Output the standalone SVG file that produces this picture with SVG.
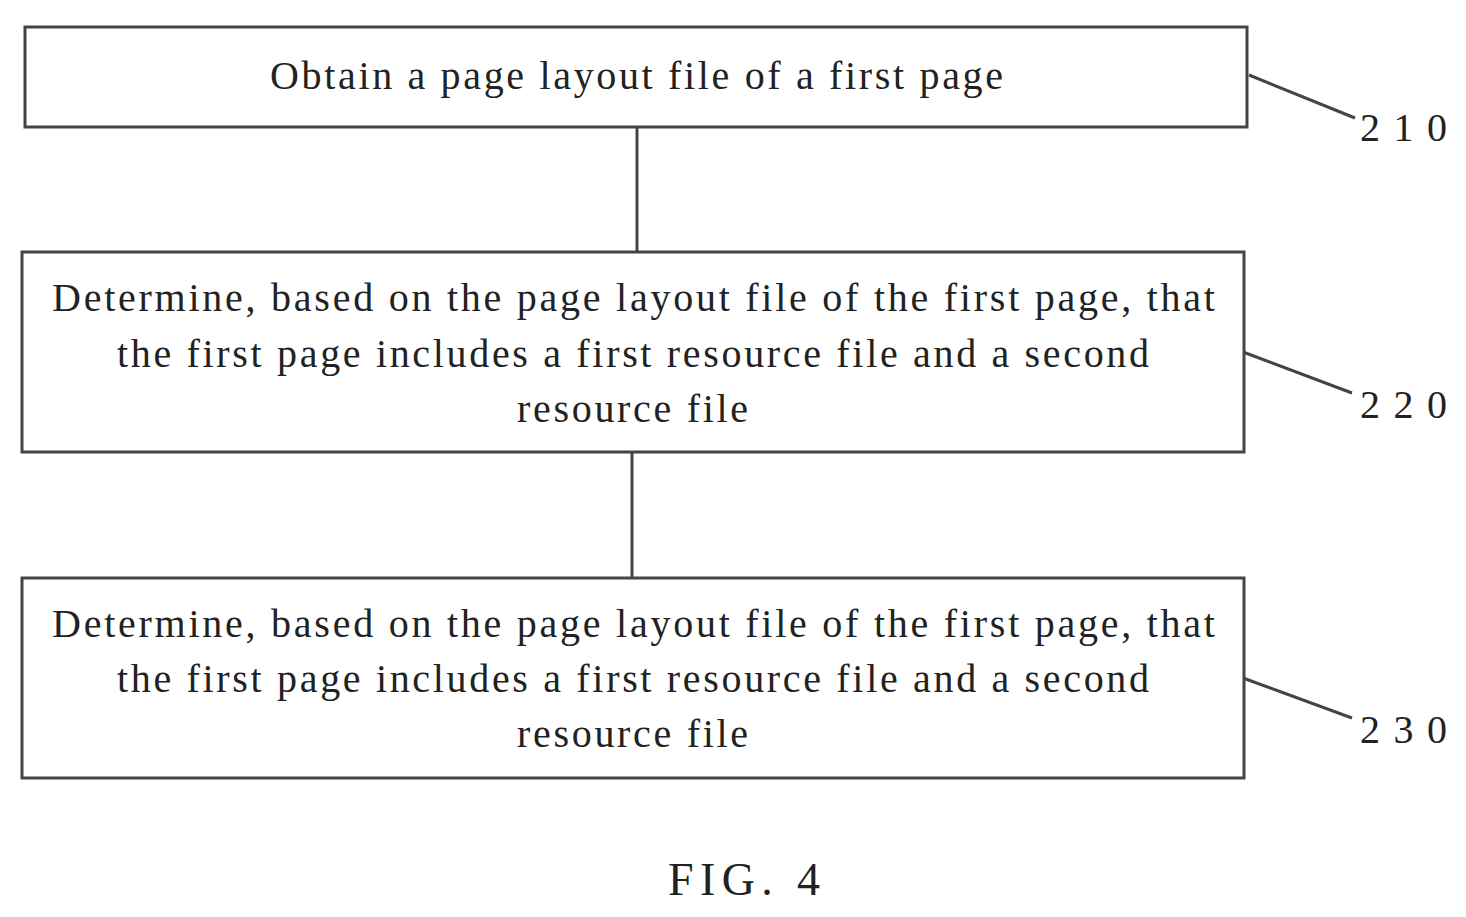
<svg xmlns="http://www.w3.org/2000/svg" width="1466" height="917" viewBox="0 0 1466 917">
<style>
.box{fill:#fff;stroke:#444;stroke-width:3}
.ln{stroke:#444;stroke-width:3;fill:none}
text{font-family:"Liberation Serif",serif;font-size:40px;fill:#222}
</style>
<rect width="1466" height="917" fill="#fff"/>
<g id="connectors">
<line class="ln" x1="637" y1="127" x2="637" y2="252"/>
<line class="ln" x1="632" y1="452" x2="632" y2="578"/>
<line class="ln" x1="1249" y1="75" x2="1355" y2="118"/>
<line class="ln" x1="1243" y1="352" x2="1352" y2="393"/>
<line class="ln" x1="1243" y1="678" x2="1352" y2="718"/>
</g>
<g id="n210">
<rect class="box" x="25" y="27" width="1222" height="100"/>
<text x="270" y="89" textLength="733" lengthAdjust="spacing">Obtain a page layout file of a first page</text>
<text x="1360" y="141" textLength="87" lengthAdjust="spacing">210</text>
</g>
<g id="n220">
<rect class="box" x="22" y="252" width="1222" height="200"/>
<text x="52" y="311" textLength="1163" lengthAdjust="spacing">Determine, based on the page layout file of the first page, that</text>
<text x="117" y="367" textLength="1032" lengthAdjust="spacing">the first page includes a first resource file and a second</text>
<text x="517" y="422" textLength="231" lengthAdjust="spacing">resource file</text>
<text x="1360" y="418" textLength="87" lengthAdjust="spacing">220</text>
</g>
<g id="n230">
<rect class="box" x="22" y="578" width="1222" height="200"/>
<text x="52" y="637" textLength="1163" lengthAdjust="spacing">Determine, based on the page layout file of the first page, that</text>
<text x="117" y="692" textLength="1032" lengthAdjust="spacing">the first page includes a first resource file and a second</text>
<text x="517" y="747" textLength="231" lengthAdjust="spacing">resource file</text>
<text x="1360" y="743" textLength="87" lengthAdjust="spacing">230</text>
</g>
<text x="668" y="895" style="font-size:46px" textLength="152" lengthAdjust="spacing">FIG. 4</text>
</svg>
